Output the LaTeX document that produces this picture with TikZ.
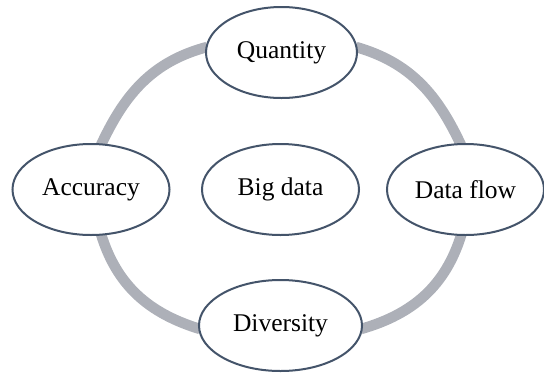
\documentclass[tikz,border=0pt]{standalone}
\usepackage{fontspec}
\setmainfont{Liberation Serif}
\usetikzlibrary{shapes.geometric,backgrounds}
\definecolor{edgeblue}{HTML}{44546A}
\definecolor{ringgray}{HTML}{ADB0B8}
\begin{document}
\begin{tikzpicture}[x=1pt,y=-1pt,
  bubble/.style={ellipse,draw=edgeblue,line width=2pt,fill=white,inner sep=0pt,
    minimum height=91pt,font=\fontsize{25.5}{30}\selectfont},
  ring/.style={draw=ringgray,line width=10.5pt}]
\useasboundingbox (0,0) rectangle (544,373);
\node[bubble,minimum width=151pt] (q) at (281.5,52.5) {Quantity};
\node[bubble,minimum width=157pt] (a) at (91,189.5) {Accuracy};
\node[bubble,minimum width=157pt] (b) at (280.5,189.5) {Big data};
\node[bubble,minimum width=157pt] (d) at (465.5,189.5) {Data flow};
\node[bubble,minimum width=163pt] (v) at (280.5,325.5) {Diversity};
\begin{pgfonlayer}{background}
\draw[ring] ([xshift=2pt,yshift=5.5pt]q.west) to[out=195,in=65] ([xshift=10pt,yshift=-2pt]a.north);
\draw[ring] ([xshift=-2pt,yshift=5.5pt]q.east) to[out=-16,in=115] ([xshift=-4.5pt,yshift=-2pt]d.north);
\draw[ring] ([xshift=10pt,yshift=2pt]a.south) to[out=-73,in=163] ([xshift=2pt,yshift=-3.5pt]v.west);
\draw[ring] ([xshift=-4pt,yshift=2pt]d.south) to[out=253,in=16] ([xshift=-2pt,yshift=-3.5pt]v.east);
\end{pgfonlayer}
\end{tikzpicture}
\end{document}
